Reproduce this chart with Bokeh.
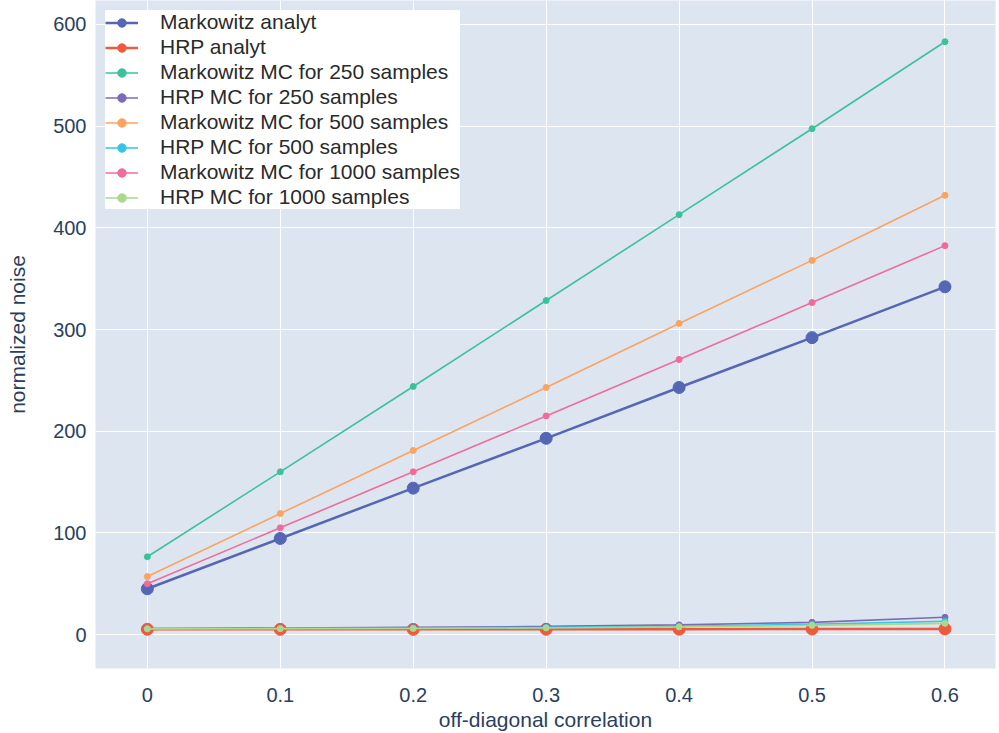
from bokeh.plotting import figure
from bokeh.models import FixedTicker, Range1d
from bokeh.embed import file_html
from bokeh.resources import INLINE

corr = [0.0, 0.1, 0.2, 0.3, 0.4, 0.5, 0.6]
markowitz_analyt = [45, 94.5, 144, 193, 243, 292, 342]
hrp_analyt = [5.2, 5.1, 5.1, 5.2, 5.3, 5.4, 5.5]
markowitz_mc_250 = [76.5, 160, 244, 328.5, 413, 497.5, 583]
hrp_mc_250 = [6.0, 6.5, 7.0, 8.0, 9.5, 12.0, 17.0]
markowitz_mc_500 = [57, 119, 181, 243, 306, 368, 432]
hrp_mc_500 = [5.8, 6.0, 6.3, 7.0, 8.0, 10.0, 13.0]
markowitz_mc_1000 = [50, 105, 160, 215, 270.5, 326.5, 382.5]
hrp_mc_1000 = [5.6, 5.8, 6.0, 6.5, 7.5, 9.0, 11.0]

x_ticks = [0, 0.1, 0.2, 0.3, 0.4, 0.5, 0.6]
x_tick_labels = ["0", "0.1", "0.2", "0.3", "0.4", "0.5", "0.6"]
y_ticks = [0, 100, 200, 300, 400, 500, 600]

series = [
    ("Markowitz analyt", markowitz_analyt, "#5566b4", 2.5, 12),
    ("HRP analyt", hrp_analyt, "#ef5a3d", 2.5, 12),
    ("Markowitz MC for 250 samples", markowitz_mc_250, "#3cc29b", 1.6, 6),
    ("HRP MC for 250 samples", hrp_mc_250, "#7b6bb5", 1.6, 6),
    ("Markowitz MC for 500 samples", markowitz_mc_500, "#fba35f", 1.6, 6),
    ("HRP MC for 500 samples", hrp_mc_500, "#33c6e6", 1.6, 6),
    ("Markowitz MC for 1000 samples", markowitz_mc_1000, "#f06b9a", 1.6, 6),
    ("HRP MC for 1000 samples", hrp_mc_1000, "#a9d98a", 1.6, 6),
]

p = figure(width=999, height=733, output_backend="svg", toolbar_location=None,
           x_range=Range1d(-0.039, 0.638), y_range=Range1d(-33.4, 623.6),
           min_border_left=95, min_border_right=4, min_border_top=0, min_border_bottom=65)
p.background_fill_color = "#dde5f1"
p.border_fill_color = "white"
p.outline_line_color = None

for name, ys, color, lw, ms in series:
    p.line(corr, ys, line_color=color, line_width=lw, legend_label=name)
    p.scatter(corr, ys, fill_color=color, line_color=color, size=ms, legend_label=name)

font = "Liberation Sans"
p.xaxis.ticker = FixedTicker(ticks=x_ticks)
p.xaxis.major_label_overrides = {t: l for t, l in zip(x_ticks, x_tick_labels)}
p.yaxis.ticker = FixedTicker(ticks=y_ticks)
for ax in (p.xaxis[0], p.yaxis[0]):
    ax.axis_line_color = None
    ax.major_tick_line_color = None
    ax.minor_tick_line_color = None
    ax.major_tick_out = 0
    ax.major_tick_in = 0
    ax.minor_tick_out = 0
    ax.major_label_text_font = font
    ax.major_label_text_font_size = "20px"
    ax.major_label_text_color = "#2a3f5f"
    ax.axis_label_text_font = font
    ax.axis_label_text_font_size = "21px"
    ax.axis_label_text_color = "#2a3f5f"
    ax.axis_label_text_font_style = "normal"
p.xaxis.axis_label = "off-diagonal correlation"
p.yaxis.axis_label = "normalized noise"
p.xaxis.major_label_standoff = 19
p.xaxis.axis_label_standoff = 3
p.yaxis.major_label_standoff = 9
p.yaxis.axis_label_standoff = 21

p.xgrid.grid_line_color = "white"
p.ygrid.grid_line_color = "white"
p.xgrid.grid_line_width = 1
p.ygrid.grid_line_width = 1

lg = p.legend[0]
lg.location = "top_left"
lg.margin = 10
lg.padding = 7
lg.spacing = 1
lg.label_height = 21
lg.glyph_height = 21
lg.glyph_width = 33
lg.label_standoff = 22
lg.label_text_font = font
lg.label_text_font_size = "21px"
lg.label_text_color = "#2a2a2a"
lg.background_fill_color = "white"
lg.background_fill_alpha = 1.0
lg.border_line_color = None

open("out.html", "w").write(file_html(p, INLINE))
